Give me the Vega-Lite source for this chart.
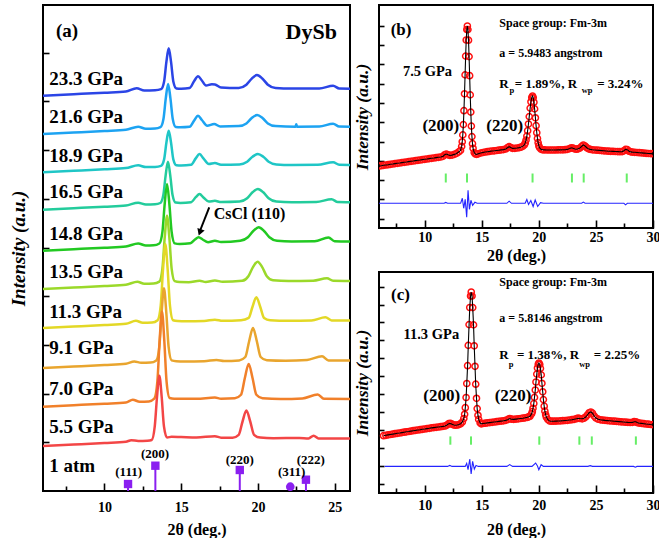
{
"$schema": "https://vega.github.io/schema/vega-lite/v6.json",
"background": "white",
"padding": {"left": 8, "top": 4, "right": 0, "bottom": 0},
"config": {
 "view": {"stroke": "black", "strokeWidth": 2},
 "font": "Liberation Serif",
 "axis": {"labelFont": "Liberation Serif", "labelFontWeight": "bold", "labelFontSize": 14, "labelColor": "black", "titleFont": "Liberation Serif", "titleFontWeight": "bold", "titleColor": "black", "tickColor": "black", "tickWidth": 1.6, "grid": false, "domain": false, "zindex": 1},
 "text": {"font": "Liberation Serif", "fontWeight": "bold", "color": "black"}
},
"datasets": {
 "curves": [
  {"p":"23.3 GPa","x":6,"v":395.3},{"p":"23.3 GPa","x":8,"v":396.8},{"p":"23.3 GPa","x":10,"v":398.3},{"p":"23.3 GPa","x":11.4,"v":399.5},{"p":"23.3 GPa","x":12.1,"v":402.8},{"p":"23.3 GPa","x":12.6,"v":400.5},{"p":"23.3 GPa","x":13.3,"v":400.7},{"p":"23.3 GPa","x":13.69,"v":401.8},{"p":"23.3 GPa","x":13.89,"v":409.6},{"p":"23.3 GPa","x":14.04,"v":429.3},{"p":"23.3 GPa","x":14.19,"v":442.7},{"p":"23.3 GPa","x":14.34,"v":429.3},{"p":"23.3 GPa","x":14.49,"v":409.6},{"p":"23.3 GPa","x":14.69,"v":402.6},{"p":"23.3 GPa","x":15.0,"v":402.2},{"p":"23.3 GPa","x":15.55,"v":403},{"p":"23.3 GPa","x":15.85,"v":410},{"p":"23.3 GPa","x":16.1,"v":414.7},{"p":"23.3 GPa","x":16.35,"v":410.5},{"p":"23.3 GPa","x":16.62,"v":405.5},{"p":"23.3 GPa","x":17.0,"v":406.8},{"p":"23.3 GPa","x":17.2,"v":406.6},{"p":"23.3 GPa","x":17.6,"v":403.5},{"p":"23.3 GPa","x":18.75,"v":403},{"p":"23.3 GPa","x":19.25,"v":406.3},{"p":"23.3 GPa","x":19.6,"v":412.3},{"p":"23.3 GPa","x":19.94,"v":416},{"p":"23.3 GPa","x":20.3,"v":412.3},{"p":"23.3 GPa","x":20.65,"v":406.3},{"p":"23.3 GPa","x":21.15,"v":403},{"p":"23.3 GPa","x":22.2,"v":402.5},{"p":"23.3 GPa","x":24.0,"v":402.6},{"p":"23.3 GPa","x":24.9,"v":405.2},{"p":"23.3 GPa","x":25.3,"v":402.5},{"p":"23.3 GPa","x":26,"v":402.3},
  {"p":"21.6 GPa","x":6,"v":357},{"p":"21.6 GPa","x":8,"v":358.5},{"p":"21.6 GPa","x":10,"v":360},{"p":"21.6 GPa","x":11.4,"v":361.2},{"p":"21.6 GPa","x":12.2,"v":364.3},{"p":"21.6 GPa","x":12.7,"v":362.2},{"p":"21.6 GPa","x":13.3,"v":362.4},{"p":"21.6 GPa","x":13.65,"v":363.8},{"p":"21.6 GPa","x":13.85,"v":372.3},{"p":"21.6 GPa","x":14.0,"v":392.8},{"p":"21.6 GPa","x":14.15,"v":407},{"p":"21.6 GPa","x":14.3,"v":392.8},{"p":"21.6 GPa","x":14.45,"v":372.3},{"p":"21.6 GPa","x":14.65,"v":364},{"p":"21.6 GPa","x":14.95,"v":363.7},{"p":"21.6 GPa","x":15.55,"v":364.2},{"p":"21.6 GPa","x":15.85,"v":370.6},{"p":"21.6 GPa","x":16.1,"v":375.3},{"p":"21.6 GPa","x":16.35,"v":371},{"p":"21.6 GPa","x":16.7,"v":365.3},{"p":"21.6 GPa","x":17.15,"v":367},{"p":"21.6 GPa","x":17.55,"v":364.5},{"p":"21.6 GPa","x":18.75,"v":364.9},{"p":"21.6 GPa","x":19.25,"v":367.6},{"p":"21.6 GPa","x":19.6,"v":373},{"p":"21.6 GPa","x":19.95,"v":376},{"p":"21.6 GPa","x":20.3,"v":373},{"p":"21.6 GPa","x":20.65,"v":367.6},{"p":"21.6 GPa","x":21.15,"v":364.9},{"p":"21.6 GPa","x":22.45,"v":364.3},{"p":"21.6 GPa","x":22.5,"v":366.8},{"p":"21.6 GPa","x":22.55,"v":364.3},{"p":"21.6 GPa","x":24.0,"v":364.5},{"p":"21.6 GPa","x":24.9,"v":367.3},{"p":"21.6 GPa","x":25.3,"v":364.5},{"p":"21.6 GPa","x":26,"v":364.3},
  {"p":"18.9 GPa","x":6,"v":318.7},{"p":"18.9 GPa","x":8,"v":320.2},{"p":"18.9 GPa","x":10,"v":321.7},{"p":"18.9 GPa","x":11.4,"v":322.9},{"p":"18.9 GPa","x":12.2,"v":325.7},{"p":"18.9 GPa","x":12.7,"v":323.9},{"p":"18.9 GPa","x":13.3,"v":324.1},{"p":"18.9 GPa","x":13.69,"v":325.2},{"p":"18.9 GPa","x":13.89,"v":331.6},{"p":"18.9 GPa","x":14.04,"v":348.5},{"p":"18.9 GPa","x":14.19,"v":360.3},{"p":"18.9 GPa","x":14.34,"v":348.5},{"p":"18.9 GPa","x":14.49,"v":331.6},{"p":"18.9 GPa","x":14.69,"v":325.7},{"p":"18.9 GPa","x":15.0,"v":325.4},{"p":"18.9 GPa","x":15.65,"v":326.2},{"p":"18.9 GPa","x":15.95,"v":332.6},{"p":"18.9 GPa","x":16.2,"v":337},{"p":"18.9 GPa","x":16.45,"v":332.6},{"p":"18.9 GPa","x":16.8,"v":327},{"p":"18.9 GPa","x":17.2,"v":328},{"p":"18.9 GPa","x":17.6,"v":326.3},{"p":"18.9 GPa","x":18.8,"v":326.6},{"p":"18.9 GPa","x":19.3,"v":329.3},{"p":"18.9 GPa","x":19.65,"v":334.3},{"p":"18.9 GPa","x":20.0,"v":337},{"p":"18.9 GPa","x":20.35,"v":334.3},{"p":"18.9 GPa","x":20.7,"v":329.3},{"p":"18.9 GPa","x":21.2,"v":326.6},{"p":"18.9 GPa","x":22.2,"v":326},{"p":"18.9 GPa","x":23.9,"v":326.2},{"p":"18.9 GPa","x":24.9,"v":328.7},{"p":"18.9 GPa","x":25.3,"v":326.2},{"p":"18.9 GPa","x":26,"v":326},
  {"p":"16.5 GPa","x":6,"v":281.3},{"p":"16.5 GPa","x":8,"v":282.8},{"p":"16.5 GPa","x":10,"v":284.3},{"p":"16.5 GPa","x":11.4,"v":285.5},{"p":"16.5 GPa","x":12.2,"v":288.3},{"p":"16.5 GPa","x":12.7,"v":286.5},{"p":"16.5 GPa","x":13.3,"v":286.7},{"p":"16.5 GPa","x":13.64,"v":288},{"p":"16.5 GPa","x":13.84,"v":296},{"p":"16.5 GPa","x":13.99,"v":315.7},{"p":"16.5 GPa","x":14.14,"v":329.3},{"p":"16.5 GPa","x":14.29,"v":315.7},{"p":"16.5 GPa","x":14.44,"v":296},{"p":"16.5 GPa","x":14.64,"v":288.4},{"p":"16.5 GPa","x":14.95,"v":288},{"p":"16.5 GPa","x":15.65,"v":288.8},{"p":"16.5 GPa","x":15.95,"v":293.8},{"p":"16.5 GPa","x":16.2,"v":297},{"p":"16.5 GPa","x":16.45,"v":293.5},{"p":"16.5 GPa","x":16.8,"v":289.5},{"p":"16.5 GPa","x":17.2,"v":290.2},{"p":"16.5 GPa","x":17.6,"v":288.9},{"p":"16.5 GPa","x":18.8,"v":289.4},{"p":"16.5 GPa","x":19.3,"v":292.7},{"p":"16.5 GPa","x":19.65,"v":298.7},{"p":"16.5 GPa","x":20.0,"v":302},{"p":"16.5 GPa","x":20.35,"v":298.7},{"p":"16.5 GPa","x":20.7,"v":292.7},{"p":"16.5 GPa","x":21.2,"v":289.4},{"p":"16.5 GPa","x":22.2,"v":288.8},{"p":"16.5 GPa","x":23.8,"v":289},{"p":"16.5 GPa","x":24.8,"v":291.8},{"p":"16.5 GPa","x":25.2,"v":289},{"p":"16.5 GPa","x":26,"v":288.8},
  {"p":"14.8 GPa","x":6,"v":240.3},{"p":"14.8 GPa","x":8,"v":241.8},{"p":"14.8 GPa","x":10,"v":243.3},{"p":"14.8 GPa","x":11.4,"v":244.5},{"p":"14.8 GPa","x":12.2,"v":247.5},{"p":"14.8 GPa","x":12.7,"v":245.5},{"p":"14.8 GPa","x":13.2,"v":245.7},{"p":"14.8 GPa","x":13.58,"v":247.5},{"p":"14.8 GPa","x":13.78,"v":259.1},{"p":"14.8 GPa","x":13.93,"v":287.4},{"p":"14.8 GPa","x":14.08,"v":307},{"p":"14.8 GPa","x":14.23,"v":287.4},{"p":"14.8 GPa","x":14.38,"v":259.1},{"p":"14.8 GPa","x":14.58,"v":247.6},{"p":"14.8 GPa","x":14.9,"v":247},{"p":"14.8 GPa","x":15.6,"v":247.8},{"p":"14.8 GPa","x":15.9,"v":251.5},{"p":"14.8 GPa","x":16.14,"v":253.7},{"p":"14.8 GPa","x":16.4,"v":251.5},{"p":"14.8 GPa","x":16.75,"v":248.8},{"p":"14.8 GPa","x":17.2,"v":250.3},{"p":"14.8 GPa","x":17.6,"v":249},{"p":"14.8 GPa","x":18.85,"v":250.2},{"p":"14.8 GPa","x":19.35,"v":253.8},{"p":"14.8 GPa","x":19.7,"v":260},{"p":"14.8 GPa","x":20.05,"v":263.7},{"p":"14.8 GPa","x":20.4,"v":260},{"p":"14.8 GPa","x":20.75,"v":253.8},{"p":"14.8 GPa","x":21.25,"v":250.2},{"p":"14.8 GPa","x":22.2,"v":249.5},{"p":"14.8 GPa","x":23.7,"v":249.7},{"p":"14.8 GPa","x":24.6,"v":253.5},{"p":"14.8 GPa","x":25.0,"v":249.8},{"p":"14.8 GPa","x":26,"v":249.5},
  {"p":"13.5 GPa","x":6,"v":202},{"p":"13.5 GPa","x":8,"v":203.5},{"p":"13.5 GPa","x":10,"v":205},{"p":"13.5 GPa","x":11.4,"v":206.2},{"p":"13.5 GPa","x":12.15,"v":209.3},{"p":"13.5 GPa","x":12.6,"v":207.2},{"p":"13.5 GPa","x":13.2,"v":207.4},{"p":"13.5 GPa","x":13.58,"v":209.4},{"p":"13.5 GPa","x":13.78,"v":222.4},{"p":"13.5 GPa","x":13.93,"v":253.6},{"p":"13.5 GPa","x":14.08,"v":275.3},{"p":"13.5 GPa","x":14.23,"v":253.6},{"p":"13.5 GPa","x":14.38,"v":222.4},{"p":"13.5 GPa","x":14.58,"v":209.8},{"p":"13.5 GPa","x":14.9,"v":208.9},{"p":"13.5 GPa","x":15.5,"v":208.8},{"p":"13.5 GPa","x":16.2,"v":210.3},{"p":"13.5 GPa","x":16.6,"v":209},{"p":"13.5 GPa","x":17.2,"v":210.5},{"p":"13.5 GPa","x":17.7,"v":209.2},{"p":"13.5 GPa","x":18.98,"v":210.2},{"p":"13.5 GPa","x":19.38,"v":214.8},{"p":"13.5 GPa","x":19.68,"v":223.9},{"p":"13.5 GPa","x":19.98,"v":229.3},{"p":"13.5 GPa","x":20.28,"v":223.9},{"p":"13.5 GPa","x":20.58,"v":214.8},{"p":"13.5 GPa","x":20.98,"v":210.8},{"p":"13.5 GPa","x":22,"v":210},{"p":"13.5 GPa","x":23.6,"v":210.3},{"p":"13.5 GPa","x":24.5,"v":212.7},{"p":"13.5 GPa","x":24.9,"v":210.2},{"p":"13.5 GPa","x":26,"v":210},
  {"p":"11.3 GPa","x":6,"v":163},{"p":"11.3 GPa","x":8,"v":164.5},{"p":"11.3 GPa","x":10,"v":166},{"p":"11.3 GPa","x":11.4,"v":167.2},{"p":"11.3 GPa","x":12.05,"v":170.3},{"p":"11.3 GPa","x":12.5,"v":168.2},{"p":"11.3 GPa","x":13.1,"v":168.4},{"p":"11.3 GPa","x":13.47,"v":170.8},{"p":"11.3 GPa","x":13.67,"v":185.6},{"p":"11.3 GPa","x":13.82,"v":221.8},{"p":"11.3 GPa","x":13.97,"v":247},{"p":"11.3 GPa","x":14.12,"v":221.8},{"p":"11.3 GPa","x":14.27,"v":185.6},{"p":"11.3 GPa","x":14.47,"v":170.8},{"p":"11.3 GPa","x":14.77,"v":170},{"p":"11.3 GPa","x":15.3,"v":169.8},{"p":"11.3 GPa","x":16.5,"v":170},{"p":"11.3 GPa","x":17.2,"v":171.3},{"p":"11.3 GPa","x":17.7,"v":170.2},{"p":"11.3 GPa","x":18.9,"v":170.8},{"p":"11.3 GPa","x":19.4,"v":173.1},{"p":"11.3 GPa","x":19.65,"v":184.3},{"p":"11.3 GPa","x":19.9,"v":193.7},{"p":"11.3 GPa","x":20.15,"v":184.3},{"p":"11.3 GPa","x":20.4,"v":173.1},{"p":"11.3 GPa","x":20.8,"v":170.8},{"p":"11.3 GPa","x":22,"v":170.3},{"p":"11.3 GPa","x":23.5,"v":170.6},{"p":"11.3 GPa","x":24.4,"v":173.7},{"p":"11.3 GPa","x":24.8,"v":170.6},{"p":"11.3 GPa","x":26,"v":170.5},
  {"p":"9.1 GPa","x":6,"v":123},{"p":"9.1 GPa","x":8,"v":124.5},{"p":"9.1 GPa","x":10,"v":126},{"p":"9.1 GPa","x":11.4,"v":127.2},{"p":"9.1 GPa","x":11.95,"v":129.5},{"p":"9.1 GPa","x":12.4,"v":128.2},{"p":"9.1 GPa","x":13.0,"v":128.4},{"p":"9.1 GPa","x":13.38,"v":130.6},{"p":"9.1 GPa","x":13.58,"v":144.7},{"p":"9.1 GPa","x":13.73,"v":179},{"p":"9.1 GPa","x":13.88,"v":202.7},{"p":"9.1 GPa","x":14.03,"v":179},{"p":"9.1 GPa","x":14.18,"v":144.7},{"p":"9.1 GPa","x":14.38,"v":130.6},{"p":"9.1 GPa","x":14.68,"v":129.8},{"p":"9.1 GPa","x":15.2,"v":129.6},{"p":"9.1 GPa","x":16.5,"v":129.8},{"p":"9.1 GPa","x":17.3,"v":131},{"p":"9.1 GPa","x":17.8,"v":130},{"p":"9.1 GPa","x":18.78,"v":130.6},{"p":"9.1 GPa","x":19.18,"v":134},{"p":"9.1 GPa","x":19.43,"v":149.8},{"p":"9.1 GPa","x":19.68,"v":163},{"p":"9.1 GPa","x":19.93,"v":149.8},{"p":"9.1 GPa","x":20.18,"v":134},{"p":"9.1 GPa","x":20.58,"v":130.7},{"p":"9.1 GPa","x":21.8,"v":130.2},{"p":"9.1 GPa","x":23.2,"v":131},{"p":"9.1 GPa","x":24.18,"v":134.7},{"p":"9.1 GPa","x":24.6,"v":130.6},{"p":"9.1 GPa","x":26,"v":130.5},
  {"p":"7.0 GPa","x":6,"v":84.3},{"p":"7.0 GPa","x":8,"v":85.8},{"p":"7.0 GPa","x":10,"v":87.3},{"p":"7.0 GPa","x":11.4,"v":88.5},{"p":"7.0 GPa","x":11.85,"v":91.3},{"p":"7.0 GPa","x":12.3,"v":89.2},{"p":"7.0 GPa","x":12.9,"v":89.6},{"p":"7.0 GPa","x":13.25,"v":92.3},{"p":"7.0 GPa","x":13.45,"v":109.4},{"p":"7.0 GPa","x":13.6,"v":150.8},{"p":"7.0 GPa","x":13.75,"v":179.6},{"p":"7.0 GPa","x":13.9,"v":150.8},{"p":"7.0 GPa","x":14.05,"v":109.4},{"p":"7.0 GPa","x":14.25,"v":93},{"p":"7.0 GPa","x":14.55,"v":92.3},{"p":"7.0 GPa","x":15,"v":92.2},{"p":"7.0 GPa","x":16,"v":92.2},{"p":"7.0 GPa","x":17.2,"v":93.5},{"p":"7.0 GPa","x":17.6,"v":92.3},{"p":"7.0 GPa","x":18.5,"v":92.7},{"p":"7.0 GPa","x":18.9,"v":96.2},{"p":"7.0 GPa","x":19.15,"v":113},{"p":"7.0 GPa","x":19.4,"v":127},{"p":"7.0 GPa","x":19.65,"v":113},{"p":"7.0 GPa","x":19.9,"v":96.2},{"p":"7.0 GPa","x":20.3,"v":92.7},{"p":"7.0 GPa","x":21.5,"v":92},{"p":"7.0 GPa","x":22.9,"v":92.6},{"p":"7.0 GPa","x":23.9,"v":96.5},{"p":"7.0 GPa","x":24.3,"v":92.2},{"p":"7.0 GPa","x":26,"v":92},
  {"p":"5.5 GPa","x":6,"v":45},{"p":"5.5 GPa","x":8,"v":46.5},{"p":"5.5 GPa","x":10,"v":48},{"p":"5.5 GPa","x":11.4,"v":49.2},{"p":"5.5 GPa","x":11.75,"v":50.8},{"p":"5.5 GPa","x":12.2,"v":50},{"p":"5.5 GPa","x":12.8,"v":50.3},{"p":"5.5 GPa","x":13.08,"v":51},{"p":"5.5 GPa","x":13.28,"v":64.6},{"p":"5.5 GPa","x":13.43,"v":94.5},{"p":"5.5 GPa","x":13.58,"v":115.3},{"p":"5.5 GPa","x":13.73,"v":94.5},{"p":"5.5 GPa","x":13.88,"v":64.6},{"p":"5.5 GPa","x":14.08,"v":53.5},{"p":"5.5 GPa","x":14.38,"v":54.3},{"p":"5.5 GPa","x":15,"v":54},{"p":"5.5 GPa","x":16,"v":53.5},{"p":"5.5 GPa","x":17.2,"v":54.8},{"p":"5.5 GPa","x":17.6,"v":53.3},{"p":"5.5 GPa","x":18.35,"v":53.3},{"p":"5.5 GPa","x":18.75,"v":56.2},{"p":"5.5 GPa","x":19.0,"v":69.5},{"p":"5.5 GPa","x":19.25,"v":80.5},{"p":"5.5 GPa","x":19.5,"v":69.5},{"p":"5.5 GPa","x":19.75,"v":56.2},{"p":"5.5 GPa","x":20.15,"v":53.4},{"p":"5.5 GPa","x":21,"v":52.8},{"p":"5.5 GPa","x":22.7,"v":53},{"p":"5.5 GPa","x":23.3,"v":52.6},{"p":"5.5 GPa","x":23.63,"v":55.3},{"p":"5.5 GPa","x":23.95,"v":52.6},{"p":"5.5 GPa","x":26,"v":52.5}
 ],
 "sticks": [
  {"x":11.54,"v":7,"v2":0,"t":"(111)"},{"x":13.32,"v":25.3,"v2":0,"t":"(200)"},{"x":18.82,"v":21,"v2":0,"t":"(220)"},{"x":22.11,"v":4.3,"v2":0,"t":"(311)"},{"x":23.13,"v":11.3,"v2":0,"t":"(222)"}
 ],
 "hkl": [
  {"x":11.58,"v":18.7,"t":"(111)"},{"x":13.3,"v":36.7,"t":"(200)"},{"x":18.82,"v":31.3,"t":"(220)"},{"x":22.2,"v":18.7,"t":"(311)"},{"x":23.45,"v":31,"t":"(222)"}
 ],
 "plabels": [
  {"x":6.4,"v":412,"t":"23.3 GPa"},{"x":6.4,"v":373.7,"t":"21.6 GPa"},{"x":6.4,"v":335.3,"t":"18.9 GPa"},{"x":6.4,"v":298.7,"t":"16.5 GPa"},{"x":6.4,"v":257,"t":"14.8 GPa"},{"x":6.4,"v":218.7,"t":"13.5 GPa"},{"x":6.4,"v":178.7,"t":"11.3 GPa"},{"x":6.4,"v":143,"t":"9.1 GPa"},{"x":6.4,"v":102,"t":"7.0 GPa"},{"x":6.4,"v":63.7,"t":"5.5 GPa"},{"x":6.4,"v":25.3,"t":"1 atm"}
 ],
 "bobs": [
  {"x":6.0,"v":62.0},{"x":6.2,"v":62.3},{"x":6.4,"v":62.7},{"x":6.6,"v":63.0},{"x":6.8,"v":63.3},{"x":7.0,"v":63.7},{"x":7.2,"v":64.0},{"x":7.4,"v":64.4},{"x":7.6,"v":64.7},{"x":7.8,"v":65.0},{"x":8.0,"v":65.4},{"x":8.2,"v":65.7},{"x":8.4,"v":66.0},{"x":8.6,"v":66.4},{"x":8.8,"v":66.7},{"x":9.0,"v":67.0},{"x":9.2,"v":67.4},{"x":9.4,"v":67.7},{"x":9.6,"v":68.0},{"x":9.8,"v":68.4},{"x":10.0,"v":68.7},{"x":10.2,"v":69.0},{"x":10.4,"v":69.4},{"x":10.6,"v":69.7},{"x":10.8,"v":70.0},{"x":11.0,"v":70.4},{"x":11.2,"v":70.7},{"x":11.4,"v":71.0},{"x":11.6,"v":71.6},{"x":11.75,"v":73.2},{"x":11.9,"v":74.0},{"x":12.05,"v":73.2},{"x":12.2,"v":72.6},{"x":12.4,"v":72.9},{"x":12.6,"v":73.6},{"x":12.8,"v":74.6},{"x":13.0,"v":76.2},{"x":13.14,"v":77.6},{"x":13.24,"v":81.6},{"x":13.29,"v":86.2},{"x":13.34,"v":93.1},{"x":13.39,"v":103.4},{"x":13.44,"v":117.3},{"x":13.49,"v":134.2},{"x":13.54,"v":153.1},{"x":13.59,"v":171.9},{"x":13.64,"v":188},{"x":13.69,"v":198.5},{"x":13.74,"v":202},{"x":13.79,"v":198.4},{"x":13.84,"v":187.8},{"x":13.89,"v":171.4},{"x":13.94,"v":152.3},{"x":13.99,"v":133.1},{"x":14.04,"v":115.9},{"x":14.09,"v":101.9},{"x":14.14,"v":91.4},{"x":14.19,"v":84.3},{"x":14.24,"v":79.7},{"x":14.34,"v":75.4},{"x":14.44,"v":74},{"x":14.55,"v":73.6},{"x":14.7,"v":74.2},{"x":14.9,"v":75},{"x":15.1,"v":75.5},{"x":15.3,"v":76},{"x":15.5,"v":76.3},{"x":15.7,"v":76.6},{"x":15.9,"v":77},{"x":16.1,"v":77.2},{"x":16.3,"v":77.5},{"x":16.5,"v":77.8},{"x":16.7,"v":78.1},{"x":16.9,"v":78.4},{"x":17.1,"v":79},{"x":17.25,"v":80.3},{"x":17.4,"v":81.3},{"x":17.55,"v":80.4},{"x":17.7,"v":79.6},{"x":17.9,"v":79.7},{"x":18.1,"v":80},{"x":18.3,"v":80.4},{"x":18.45,"v":80.9},{"x":18.59,"v":81.6},{"x":18.74,"v":83.3},{"x":18.81,"v":85.1},{"x":18.88,"v":87.9},{"x":18.95,"v":91.9},{"x":19.02,"v":97.3},{"x":19.09,"v":104},{"x":19.16,"v":111.4},{"x":19.24,"v":119.9},{"x":19.31,"v":126.2},{"x":19.38,"v":130.5},{"x":19.45,"v":132},{"x":19.51,"v":130.4},{"x":19.57,"v":125.8},{"x":19.63,"v":119.1},{"x":19.7,"v":110.2},{"x":19.76,"v":102.3},{"x":19.82,"v":95.3},{"x":19.88,"v":89.6},{"x":19.94,"v":85.3},{"x":20.0,"v":82.3},{"x":20.06,"v":80.4},{"x":20.2,"v":78.6},{"x":20.35,"v":78.2},{"x":20.5,"v":78.1},{"x":20.7,"v":78},{"x":20.9,"v":78},{"x":21.1,"v":78},{"x":21.3,"v":78},{"x":21.5,"v":78},{"x":21.7,"v":78.1},{"x":21.9,"v":78.1},{"x":22.1,"v":78.2},{"x":22.3,"v":78.3},{"x":22.5,"v":78.6},{"x":22.7,"v":79.4},{"x":22.85,"v":80.2},{"x":23.0,"v":79.8},{"x":23.15,"v":79},{"x":23.3,"v":78.8},{"x":23.45,"v":79.2},{"x":23.6,"v":80},{"x":23.75,"v":81.6},{"x":23.9,"v":83},{"x":24.05,"v":82},{"x":24.2,"v":80.3},{"x":24.35,"v":79.2},{"x":24.5,"v":78.6},{"x":24.7,"v":78.2},{"x":24.9,"v":78},{"x":25.1,"v":77.8},{"x":25.3,"v":77.6},{"x":25.5,"v":77.4},{"x":25.7,"v":77.2},{"x":25.9,"v":77},{"x":26.1,"v":76.8},{"x":26.3,"v":76.7},{"x":26.5,"v":76.6},{"x":26.7,"v":76.5},{"x":26.9,"v":76.4},{"x":27.1,"v":76.3},{"x":27.3,"v":76.4},{"x":27.45,"v":77.2},{"x":27.6,"v":78.6},{"x":27.75,"v":78.3},{"x":27.9,"v":76.8},{"x":28.05,"v":76.1},{"x":28.2,"v":75.9},{"x":28.4,"v":75.7},{"x":28.6,"v":75.5},{"x":28.8,"v":75.3},{"x":29.0,"v":75.1},{"x":29.2,"v":74.9},{"x":29.4,"v":74.7},{"x":29.6,"v":74.5},{"x":29.8,"v":74.4},{"x":30.0,"v":74.3}
 ],
 "bdiff": [
  {"x":6,"v":24.7},{"x":11.7,"v":24.7},{"x":11.85,"v":25.6},{"x":12.0,"v":24.7},{"x":13.15,"v":24.7},{"x":13.3,"v":29.7},{"x":13.42,"v":19.7},{"x":13.55,"v":28.7},{"x":13.68,"v":10.7},{"x":13.8,"v":37.7},{"x":13.92,"v":18.7},{"x":14.05,"v":27.7},{"x":14.2,"v":22.7},{"x":14.4,"v":25.7},{"x":14.6,"v":24.7},{"x":17.2,"v":24.7},{"x":17.4,"v":26.8},{"x":17.6,"v":24.7},{"x":18.8,"v":24.7},{"x":18.95,"v":28.5},{"x":19.1,"v":23.5},{"x":19.3,"v":27.5},{"x":19.5,"v":21.5},{"x":19.68,"v":28},{"x":19.9,"v":21.5},{"x":20.15,"v":25.3},{"x":20.4,"v":24.7},{"x":23.75,"v":24.7},{"x":23.9,"v":25.9},{"x":24.05,"v":24.7},{"x":27.45,"v":24.7},{"x":27.6,"v":23.2},{"x":27.75,"v":24.7},{"x":30,"v":24.7}
 ],
 "bticks": [
  {"x":11.85,"v":45.5,"v2":54.5},{"x":13.71,"v":45.5,"v2":54.5},{"x":19.45,"v":45.5,"v2":54.5},{"x":22.9,"v":45.5,"v2":54.5},{"x":23.93,"v":45.5,"v2":54.5},{"x":27.7,"v":45.5,"v2":54.5}
 ],
 "cobs": [
  {"x":6.4,"v":57.3},{"x":6.6,"v":57.7},{"x":6.8,"v":58.1},{"x":7.0,"v":58.5},{"x":7.2,"v":58.9},{"x":7.4,"v":59.3},{"x":7.6,"v":59.7},{"x":7.8,"v":60.0},{"x":8.0,"v":60.4},{"x":8.2,"v":60.8},{"x":8.4,"v":61.2},{"x":8.6,"v":61.5},{"x":8.8,"v":61.9},{"x":9.0,"v":62.3},{"x":9.2,"v":62.6},{"x":9.4,"v":63.0},{"x":9.6,"v":63.3},{"x":9.8,"v":63.7},{"x":10.0,"v":64.0},{"x":10.2,"v":64.4},{"x":10.4,"v":64.7},{"x":10.6,"v":65.1},{"x":10.8,"v":65.4},{"x":11.0,"v":65.7},{"x":11.2,"v":66.0},{"x":11.4,"v":66.3},{"x":11.6,"v":66.6},{"x":11.8,"v":67.0},{"x":11.95,"v":68},{"x":12.1,"v":69.3},{"x":12.25,"v":69.6},{"x":12.4,"v":68.8},{"x":12.55,"v":68},{"x":12.7,"v":67.8},{"x":12.85,"v":68},{"x":13.0,"v":68.4},{"x":13.15,"v":69.3},{"x":13.3,"v":71},{"x":13.43,"v":74.5},{"x":13.5,"v":78.7},{"x":13.56,"v":85.3},{"x":13.63,"v":95.5},{"x":13.69,"v":109.5},{"x":13.76,"v":127.3},{"x":13.82,"v":147.6},{"x":13.89,"v":168.4},{"x":13.95,"v":185.5},{"x":14.02,"v":197},{"x":14.08,"v":201},{"x":14.15,"v":197},{"x":14.21,"v":185.4},{"x":14.28,"v":168.1},{"x":14.34,"v":147.2},{"x":14.41,"v":126.7},{"x":14.47,"v":108.8},{"x":14.54,"v":94.7},{"x":14.6,"v":84.4},{"x":14.67,"v":77.7},{"x":14.73,"v":73.6},{"x":14.86,"v":70.1},{"x":14.95,"v":69.2},{"x":15.1,"v":69.5},{"x":15.3,"v":69.8},{"x":15.5,"v":70.1},{"x":15.7,"v":70.4},{"x":15.9,"v":70.7},{"x":16.1,"v":71.0},{"x":16.3,"v":71.3},{"x":16.5,"v":71.6},{"x":16.7,"v":71.9},{"x":16.9,"v":72.2},{"x":17.1,"v":72.6},{"x":17.3,"v":73.6},{"x":17.45,"v":74.5},{"x":17.6,"v":73.8},{"x":17.8,"v":73.6},{"x":18.0,"v":73.9},{"x":18.2,"v":74.2},{"x":18.4,"v":74.5},{"x":18.6,"v":74.8},{"x":18.8,"v":75.2},{"x":19.0,"v":75.7},{"x":19.12,"v":76.2},{"x":19.23,"v":76.8},{"x":19.36,"v":79.1},{"x":19.43,"v":81.3},{"x":19.49,"v":84.7},{"x":19.56,"v":89.5},{"x":19.62,"v":95.6},{"x":19.69,"v":103},{"x":19.75,"v":111},{"x":19.82,"v":118.9},{"x":19.88,"v":125},{"x":19.95,"v":128.8},{"x":20.01,"v":130},{"x":20.08,"v":128.6},{"x":20.14,"v":124.6},{"x":20.21,"v":118.1},{"x":20.27,"v":109.7},{"x":20.34,"v":101.2},{"x":20.4,"v":93.4},{"x":20.47,"v":86.8},{"x":20.53,"v":81.8},{"x":20.6,"v":78.2},{"x":20.66,"v":75.8},{"x":20.79,"v":73.4},{"x":20.95,"v":72},{"x":21.1,"v":71.8},{"x":21.3,"v":71.8},{"x":21.5,"v":71.9},{"x":21.7,"v":72},{"x":21.9,"v":72.1},{"x":22.1,"v":72.3},{"x":22.3,"v":72.5},{"x":22.5,"v":72.7},{"x":22.7,"v":73},{"x":22.9,"v":73.3},{"x":23.1,"v":73.7},{"x":23.3,"v":74.3},{"x":23.45,"v":74.8},{"x":23.6,"v":74.5},{"x":23.8,"v":74.2},{"x":23.95,"v":74.8},{"x":24.1,"v":76},{"x":24.25,"v":78},{"x":24.4,"v":80.2},{"x":24.55,"v":81},{"x":24.7,"v":79.8},{"x":24.85,"v":77},{"x":25.0,"v":75},{"x":25.2,"v":73.8},{"x":25.4,"v":73.2},{"x":25.6,"v":72.9},{"x":25.8,"v":72.6},{"x":26.0,"v":72.4},{"x":26.2,"v":72.2},{"x":26.4,"v":72.0},{"x":26.6,"v":71.8},{"x":26.8,"v":71.6},{"x":27.0,"v":71.4},{"x":27.2,"v":71.2},{"x":27.4,"v":71.0},{"x":27.6,"v":70.8},{"x":27.8,"v":70.6},{"x":28.0,"v":70.5},{"x":28.2,"v":70.6},{"x":28.35,"v":71.3},{"x":28.5,"v":71.2},{"x":28.65,"v":70.3},{"x":28.8,"v":69.9},{"x":29.0,"v":69.6},{"x":29.2,"v":69.3},{"x":29.4,"v":69.0},{"x":29.6,"v":68.8},{"x":29.8,"v":68.5},{"x":30.0,"v":68.3}
 ],
 "cdiff": [
  {"x":6.5,"v":26.6},{"x":12.0,"v":26.6},{"x":12.2,"v":27.6},{"x":12.4,"v":26.6},{"x":13.55,"v":26.6},{"x":13.68,"v":29.6},{"x":13.8,"v":23.3},{"x":13.95,"v":34},{"x":14.07,"v":19},{"x":14.2,"v":31.6},{"x":14.35,"v":24},{"x":14.5,"v":27.5},{"x":14.7,"v":26.6},{"x":17.2,"v":26.6},{"x":17.45,"v":28.4},{"x":17.7,"v":26.6},{"x":19.4,"v":26.6},{"x":19.72,"v":30},{"x":19.88,"v":27},{"x":20.0,"v":23.3},{"x":20.2,"v":28.3},{"x":20.4,"v":26.6},{"x":24.3,"v":26.6},{"x":24.5,"v":27.3},{"x":24.7,"v":26.6},{"x":28.3,"v":26.6},{"x":28.45,"v":25.8},{"x":28.6,"v":26.6},{"x":30,"v":26.6}
 ],
 "cticks": [
  {"x":12.25,"v":48.3,"v2":56.6},{"x":14.06,"v":48.3,"v2":56.6},{"x":20.04,"v":48.3,"v2":56.6},{"x":23.55,"v":48.3,"v2":56.6},{"x":24.64,"v":48.3,"v2":56.6},{"x":28.5,"v":48.3,"v2":56.6}
 ]
},
"hconcat": [
 {
  "width": 307, "height": 486,
  "encoding": {
   "x": {"field": "x", "type": "quantitative", "scale": {"domain": [6, 26], "nice": false, "zero": false},
    "axis": {"title": "2θ (deg.)", "titleFontSize": 16, "titlePadding": 7, "values": [7.5, 10, 12.5, 15, 17.5, 20, 22.5, 25], "labelExpr": "datum.value % 5 === 0 ? datum.label : ''", "tickSize": {"condition": {"test": "datum.value % 5 === 0", "value": -8}, "value": -5}, "labelPadding": {"condition": {"test": "datum.value % 5 === 0", "value": 17}, "value": 14}, "labelFlush": false, "labelOverlap": false}},
   "y": {"field": "v", "type": "quantitative", "scale": {"domain": [0, 486], "nice": false, "zero": false},
    "axis": {"title": "Intensity (a.u.)", "titleFontSize": 19, "titleFontStyle": "italic", "titlePadding": 14, "values": [48.7, 97.4, 146.1, 194.8, 243.5, 292.2, 340.9, 389.6, 438.3], "labels": false, "tickSize": -6}}
  },
  "layer": [
   {"data": {"name": "curves"}, "mark": {"type": "line", "strokeWidth": 2.5, "interpolate": "monotone", "clip": true},
    "encoding": {"color": {"field": "p", "type": "nominal", "legend": null,
     "scale": {"domain": ["23.3 GPa","21.6 GPa","18.9 GPa","16.5 GPa","14.8 GPa","13.5 GPa","11.3 GPa","9.1 GPa","7.0 GPa","5.5 GPa"],
               "range": ["#2b45e6","#1da3f2","#1fc6c6","#23cc9c","#22c922","#9bd92a","#e3d826","#e9a52e","#f1802a","#f34646"]}}}},
   {"data": {"name": "sticks"}, "mark": {"type": "rule", "color": "#8a1ff0", "strokeWidth": 2}, "encoding": {"y2": {"field": "v2"}}},
   {"data": {"name": "sticks"}, "transform": [{"filter": "datum.t !== '(311)'"}], "mark": {"type": "point", "shape": "square", "filled": true, "color": "#8a1ff0", "size": 70, "opacity": 1}},
   {"data": {"name": "sticks"}, "transform": [{"filter": "datum.t === '(311)'"}], "mark": {"type": "point", "shape": "circle", "filled": true, "color": "#8a1ff0", "size": 75, "opacity": 1}},
   {"data": {"name": "hkl"}, "mark": {"type": "text", "fontSize": 13, "align": "center", "baseline": "middle"}, "encoding": {"text": {"field": "t"}}},
   {"data": {"name": "plabels"}, "mark": {"type": "text", "fontSize": 19, "align": "left", "baseline": "middle"}, "encoding": {"text": {"field": "t"}}},
   {"data": {"values": [{"x": 6.85, "v": 460.3, "t": "(a)"}]}, "mark": {"type": "text", "fontSize": 19, "align": "left", "baseline": "middle"}, "encoding": {"text": {"field": "t"}}},
   {"data": {"values": [{"x": 25.15, "v": 458.7, "t": "DySb"}]}, "mark": {"type": "text", "fontSize": 22, "align": "right", "baseline": "middle"}, "encoding": {"text": {"field": "t"}}},
   {"data": {"values": [{"x": 17.12, "v": 277, "t": "CsCl (110)"}]}, "mark": {"type": "text", "fontSize": 16, "align": "left", "baseline": "middle"}, "encoding": {"text": {"field": "t"}}},
   {"data": {"values": [{"x": 16.83, "v": 283.7, "x2": 16.25, "v2": 261}]}, "mark": {"type": "rule", "color": "black", "strokeWidth": 2}, "encoding": {"x2": {"field": "x2"}, "y2": {"field": "v2"}}},
   {"data": {"values": [{"x": 16.22, "v": 258.6}]}, "mark": {"type": "point", "shape": "triangle-down", "filled": true, "color": "black", "size": 60, "angle": 20, "opacity": 1}}
  ]
 },
 {
  "spacing": 7,
  "vconcat": [
   {
    "width": 274, "height": 223,
    "encoding": {
     "x": {"field": "x", "type": "quantitative", "scale": {"domain": [6, 30], "nice": false, "zero": false},
      "axis": {"title": "2θ (deg.)", "titleFontSize": 16, "titlePadding": 3, "values": [7.5, 10, 12.5, 15, 17.5, 20, 22.5, 25, 27.5, 30], "labelExpr": "datum.value % 5 === 0 ? datum.label : ''", "tickSize": {"condition": {"test": "datum.value % 5 === 0", "value": -8}, "value": -5}, "labelPadding": {"condition": {"test": "datum.value % 5 === 0", "value": 10}, "value": 7}, "labelFlush": false, "labelOverlap": false}},
     "y": {"field": "v", "type": "quantitative", "scale": {"domain": [0, 223], "nice": false, "zero": false},
      "axis": {"title": "Intensity (a.u.)", "titleFontSize": 17.5, "titleFontStyle": "italic", "titlePadding": 7, "values": [9.3, 28.6, 47.9, 67.2, 86.5, 105.8, 125.1, 144.4, 163.7, 183, 202.3], "labels": false, "tickSize": -5}}
    },
    "layer": [
     {"data": {"name": "bobs"}, "mark": {"type": "point", "shape": "circle", "filled": false, "color": "#ff1010", "strokeWidth": 1.5, "size": 38, "opacity": 1, "clip": true}},
     {"data": {"name": "bobs"}, "mark": {"type": "line", "color": "black", "strokeWidth": 1.1, "clip": true}},
     {"data": {"name": "bdiff"}, "mark": {"type": "line", "color": "#2424ff", "strokeWidth": 1.1}},
     {"data": {"name": "bticks"}, "mark": {"type": "rule", "color": "#66ee66", "strokeWidth": 2}, "encoding": {"y2": {"field": "v2"}}},
     {"data": {"values": [{"x": 7.02, "v": 198.3, "t": "(b)"}, {"x": 9.8, "v": 101.6, "t": "(200)"}, {"x": 15.4, "v": 101.6, "t": "(220)"}]}, "mark": {"type": "text", "fontSize": 17, "align": "left", "baseline": "middle"}, "encoding": {"text": {"field": "t"}}},
     {"data": {"values": [{"x": 8.1, "v": 156, "t": "7.5 GPa"}]}, "mark": {"type": "text", "fontSize": 14.5, "align": "left", "baseline": "middle"}, "encoding": {"text": {"field": "t"}}},
     {"data": {"values": [{"x": 16.54, "v": 205, "t": "Space group: Fm-3m"}, {"x": 16.54, "v": 175, "t": "a = 5.9483 angstrom"}]}, "mark": {"type": "text", "fontSize": 12, "align": "left", "baseline": "middle"}, "encoding": {"text": {"field": "t"}}},
     {"data": {"values": [{"x": 16.54, "v": 144.3, "t": "R"}, {"x": 17.89, "v": 144.3, "t": "= 1.89%, R"}, {"x": 25.11, "v": 144.3, "t": "= 3.24%"}]}, "mark": {"type": "text", "fontSize": 13, "align": "left", "baseline": "middle"}, "encoding": {"text": {"field": "t"}}},
     {"data": {"values": [{"x": 17.42, "v": 138.3, "t": "p"}, {"x": 23.75, "v": 138.3, "t": "wp"}]}, "mark": {"type": "text", "fontSize": 8.5, "align": "left", "baseline": "middle"}, "encoding": {"text": {"field": "t"}}}
    ]
   },
   {
    "width": 274, "height": 221,
    "encoding": {
     "x": {"field": "x", "type": "quantitative", "scale": {"domain": [6, 30], "nice": false, "zero": false},
      "axis": {"title": "2θ (deg.)", "titleFontSize": 16, "titlePadding": 9, "values": [7.5, 10, 12.5, 15, 17.5, 20, 22.5, 25, 27.5, 30], "labelExpr": "datum.value % 5 === 0 ? datum.label : ''", "tickSize": {"condition": {"test": "datum.value % 5 === 0", "value": -8}, "value": -5}, "labelPadding": {"condition": {"test": "datum.value % 5 === 0", "value": 13}, "value": 10}, "labelFlush": false, "labelOverlap": false}},
     "y": {"field": "v", "type": "quantitative", "scale": {"domain": [0, 221], "nice": false, "zero": false},
      "axis": {"title": "Intensity (a.u.)", "titleFontSize": 17.5, "titleFontStyle": "italic", "titlePadding": 7, "values": [9.5, 27.4, 45.3, 63.2, 81.1, 99, 116.9, 134.8, 152.7, 170.6, 188.5, 206.4], "labels": false, "tickSize": -5}}
    },
    "layer": [
     {"data": {"name": "cobs"}, "mark": {"type": "point", "shape": "circle", "filled": false, "color": "#ff1010", "strokeWidth": 1.5, "size": 38, "opacity": 1, "clip": true}},
     {"data": {"name": "cobs"}, "mark": {"type": "line", "color": "black", "strokeWidth": 1.1, "clip": true}},
     {"data": {"name": "cdiff"}, "mark": {"type": "line", "color": "#2424ff", "strokeWidth": 1.1}},
     {"data": {"name": "cticks"}, "mark": {"type": "rule", "color": "#66ee66", "strokeWidth": 2}, "encoding": {"y2": {"field": "v2"}}},
     {"data": {"values": [{"x": 7.05, "v": 198.3, "t": "(c)"}, {"x": 9.88, "v": 96.6, "t": "(200)"}, {"x": 16.13, "v": 96.6, "t": "(220)"}]}, "mark": {"type": "text", "fontSize": 17, "align": "left", "baseline": "middle"}, "encoding": {"text": {"field": "t"}}},
     {"data": {"values": [{"x": 8.15, "v": 158, "t": "11.3 GPa"}]}, "mark": {"type": "text", "fontSize": 14.5, "align": "left", "baseline": "middle"}, "encoding": {"text": {"field": "t"}}},
     {"data": {"values": [{"x": 16.54, "v": 211, "t": "Space group: Fm-3m"}, {"x": 16.54, "v": 175, "t": "a = 5.8146 angstrom"}]}, "mark": {"type": "text", "fontSize": 12, "align": "left", "baseline": "middle"}, "encoding": {"text": {"field": "t"}}},
     {"data": {"values": [{"x": 16.54, "v": 138.3, "t": "R"}, {"x": 18.08, "v": 138.3, "t": "= 1.38%, R"}, {"x": 24.82, "v": 138.3, "t": "= 2.25%"}]}, "mark": {"type": "text", "fontSize": 13, "align": "left", "baseline": "middle"}, "encoding": {"text": {"field": "t"}}},
     {"data": {"values": [{"x": 17.36, "v": 129, "t": "p"}, {"x": 23.53, "v": 129, "t": "wp"}]}, "mark": {"type": "text", "fontSize": 8.5, "align": "left", "baseline": "middle"}, "encoding": {"text": {"field": "t"}}}
    ]
   }
  ]
 }
],
"spacing": 1
}
